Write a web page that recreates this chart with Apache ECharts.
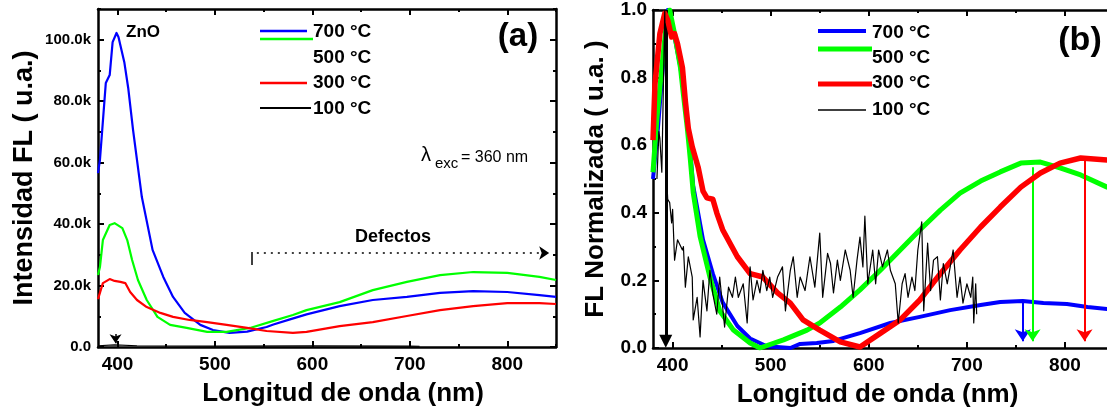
<!DOCTYPE html>
<html><head><meta charset="utf-8">
<script src="https://cdn.jsdelivr.net/npm/echarts@6/dist/echarts.min.js"></script>
<style>html,body{margin:0;padding:0;background:#fff}#c{width:1107px;height:412px}</style>
</head><body><div id="c"></div>
<script>
// ---------- data ----------
const temps = ['700 °C', '500 °C', '300 °C', '100 °C'];
const wlTicks = [400, 500, 600, 700, 800];
const wlMinorTicks = [450, 550, 650, 750, 850];
const intTicks = [0, 20000, 40000, 60000, 80000, 100000];
const intMinorTicks = [10000, 30000, 50000, 70000, 90000, 110000];
const normTicks = [0, 0.2, 0.4, 0.6, 0.8, 1.0];
const normMinorTicks = [0.1, 0.3, 0.5, 0.7, 0.9];

// (a) intensity, [nm, counts]
const a700 = [[380,56600],[382,60900],[388,85900],[392,88500],[395,99200],[399,102200],[401,100900],[407,92700],[411,84300],[416,70600],[420,60900],[425,48800],[436,31600],[447,22800],[457,16300],[469,11100],[485,7200],[498,5500],[515,4600],[533,5000],[553,6500],[560,7300],[577,9000],[594,10600],[628,13300],[662,15300],[697,16300],[731,17600],[765,18200],[800,17900],[833,16900],[850,16300]];
const a500 = [[380,23400],[382,26000],[385,34800],[392,39700],[397,40300],[405,38700],[410,34800],[415,28300],[421,21800],[430,15300],[441,9800],[454,7200],[471,6200],[492,4900],[512,4900],[536,6200],[560,8500],[580,10400],[594,12000],[628,14600],[662,18500],[697,21200],[731,23400],[765,24400],[800,24100],[833,22800],[850,21800]];
const a300 = [[380,15600],[385,20800],[392,22100],[397,21500],[403,21200],[408,20800],[413,17900],[420,15300],[430,13000],[444,11100],[457,9800],[474,8800],[492,8100],[512,7200],[533,6200],[553,5200],[580,4600],[594,4900],[628,6800],[662,8100],[697,10100],[731,12000],[765,13300],[800,14300],[833,14300],[850,14000]];
const a100 = [[380,400],[397,700],[420,400],[500,300],[600,350],[700,300],[710,250]];

// (b) normalised, [nm, value]
const b700 = [[380,0.50],[385,0.65],[390,0.83],[395,1.0],[400,0.95],[408,0.83],[413,0.72],[418,0.58],[421,0.48],[426,0.40],[431,0.32],[441,0.22],[451,0.135],[466,0.065],[479,0.028],[496,0.005],[520,0.0],[530,0.012],[547,0.015],[564,0.021],[591,0.044],[622,0.074],[652,0.092],[683,0.112],[714,0.127],[734,0.136],[757,0.139],[778,0.133],[802,0.130],[823,0.121],[843,0.115],[850,0.113]];
const b500 = [[380,0.52],[384,0.68],[389,0.83],[394,0.97],[397,1.0],[402,0.93],[408,0.83],[411,0.75],[415,0.65],[418,0.56],[421,0.46],[428,0.33],[438,0.21],[448,0.11],[462,0.053],[479,0.015],[489,0.0],[513,0.024],[537,0.053],[550,0.074],[571,0.121],[591,0.172],[612,0.231],[632,0.29],[652,0.349],[673,0.408],[693,0.458],[714,0.494],[734,0.521],[755,0.547],[775,0.550],[795,0.533],[816,0.512],[843,0.476],[850,0.47]];
const b300 = [[380,0.615],[382,0.78],[387,0.93],[392,0.99],[395,0.97],[399,0.92],[402,0.93],[405,0.90],[410,0.83],[413,0.73],[416,0.65],[420,0.595],[423,0.565],[426,0.535],[431,0.464],[435,0.444],[441,0.44],[445,0.40],[451,0.35],[466,0.27],[479,0.22],[492,0.21],[507,0.163],[520,0.133],[533,0.083],[550,0.053],[571,0.018],[591,0.003],[612,0.044],[632,0.083],[652,0.142],[673,0.22],[693,0.29],[714,0.358],[734,0.417],[755,0.476],[775,0.518],[795,0.547],[816,0.562],[843,0.556],[850,0.555]];
const b100 = [[384,0.50],[386,0.64],[387,0.62],[389,0.52],[392,1.0],[394,0.50],[395,0.44],[397,0.43],[399,0.37],[400,0.41],[402,0.26],[405,0.32],[410,0.29],[411,0.30],[413,0.18],[416,0.27],[420,0.21],[421,0.083],[425,0.15],[428,0.033],[431,0.20],[435,0.11],[438,0.23],[441,0.16],[445,0.10],[448,0.21],[453,0.062],[457,0.18],[461,0.15],[464,0.21],[467,0.15],[472,0.19],[476,0.074],[479,0.24],[482,0.142],[486,0.20],[489,0.163],[492,0.23],[496,0.17],[499,0.21],[502,0.15],[507,0.21],[512,0.24],[515,0.11],[520,0.23],[523,0.27],[527,0.15],[530,0.21],[535,0.17],[540,0.27],[545,0.18],[550,0.34],[553,0.15],[558,0.28],[561,0.25],[564,0.163],[568,0.26],[571,0.20],[576,0.29],[581,0.23],[584,0.15],[588,0.26],[591,0.328],[594,0.24],[596,0.39],[599,0.19],[604,0.29],[607,0.19],[610,0.29],[614,0.24],[619,0.29],[622,0.23],[627,0.19],[630,0.074],[634,0.19],[637,0.22],[640,0.15],[644,0.21],[647,0.17],[650,0.29],[654,0.373],[656,0.11],[660,0.31],[663,0.17],[666,0.26],[670,0.27],[673,0.142],[676,0.25],[680,0.19],[683,0.24],[686,0.29],[690,0.15],[693,0.21],[696,0.133],[700,0.19],[704,0.15],[706,0.21],[707,0.074],[709,0.19],[710,0.10]];

// peak markers (nm, value at curve)
const peakB = [[757, 0.139], [767, 0.535], [820, 0.556]];
const excPeakB = 393;
const peakA100 = 398;

// ---------- chart ----------
const FONT = "'Liberation Sans', Arial, sans-serif";
const BLUE = '#0000ff', GREEN = '#00ff00', RED = '#ff0000', BLACK = '#000000';

function axisSet(kind, gridIndex, o) {
  const posMain = kind === 'x' ? 'bottom' : 'left';
  const posOpp = kind === 'x' ? 'top' : 'right';
  const base = () => ({type: 'value', gridIndex, min: o.min, max: o.max, splitLine: {show: false}, axisPointer: {show: false}});
  const tick = (vals, len) => ({show: true, inside: true, length: len, customValues: vals, lineStyle: {color: '#000', width: 2}});
  const line = (show) => ({show, onZero: false, lineStyle: {color: '#000', width: 2.5}});
  return [
    Object.assign(base(), {position: posMain, axisLine: line(true), axisTick: tick(o.ticks, 6),
      axisLabel: {show: true, customValues: o.ticks, formatter: o.fmt, color: '#000', fontWeight: 'bold', fontSize: o.labelSize, fontFamily: FONT, margin: o.margin},
      name: o.name, nameLocation: 'middle', nameGap: o.nameGap, nameMoveOverlap: false,
      nameTextStyle: {color: '#000', fontWeight: 'bold', fontSize: o.nameSize, fontFamily: FONT, padding: o.namePad || 0}}),
    Object.assign(base(), {position: posMain, axisLine: line(false), axisTick: tick(o.minor, 3), axisLabel: {show: false}}),
    Object.assign(base(), {position: posOpp, axisLine: line(true), axisTick: tick(o.ticks, 6), axisLabel: {show: false}}),
    Object.assign(base(), {position: posOpp, axisLine: line(false), axisTick: tick(o.minor, 3), axisLabel: {show: false}})
  ];
}

const xName = 'Longitud de onda (nm)';
const xAxes = [].concat(
  axisSet('x', 0, {min: 380, max: 850, ticks: wlTicks, minor: wlMinorTicks, fmt: v => String(v), labelSize: 19, margin: 8, name: xName, nameGap: 34, nameSize: 26, namePad: [0, 0, 0, 32]}),
  axisSet('x', 1, {min: 380, max: 850, ticks: wlTicks, minor: wlMinorTicks, fmt: v => String(v), labelSize: 19, margin: 8, name: xName, nameGap: 34, nameSize: 26, namePad: [0, 12, 0, 0]})
);
const yAxes = [].concat(
  axisSet('y', 0, {min: 0, max: 110000, ticks: intTicks, minor: intMinorTicks, fmt: v => v === 0 ? '0.0' : (v / 1000).toFixed(1) + 'k', labelSize: 15, margin: 7, name: 'Intensidad FL ( u.a.)', nameGap: 60, nameSize: 27}),
  axisSet('y', 1, {min: 0, max: 1.0, ticks: normTicks, minor: normMinorTicks, fmt: v => v.toFixed(1), labelSize: 19, margin: 6, name: 'FL Normalizada ( u.a. )', nameGap: 44, nameSize: 26})
);

function ser(name, data, ai, color, width, z, extra) {
  return Object.assign({type: 'line', name, data, xAxisIndex: ai, yAxisIndex: ai, symbol: 'none', showSymbol: false,
    lineStyle: {color, width, join: 'round'}, itemStyle: {color}, z, silent: true, animation: false}, extra || {});
}

const mlA = {silent: true, animation: false, label: {show: false}, emphasis: {disabled: true},
  data: [
    [{coord: [543, 30600], symbol: 'none', lineStyle: {color: BLACK, width: 1.5, type: [2, 5]}}, {coord: [843, 30600], symbol: 'arrow', symbolSize: 10, itemStyle: {color: BLACK}}],
    [{coord: [538, 26700], symbol: 'none', lineStyle: {color: BLACK, width: 1.5, type: 'solid'}}, {coord: [538, 30900], symbol: 'none'}],
    [{coord: [peakA100, 4200], symbol: 'none', lineStyle: {color: BLACK, width: 1.5, type: 'solid'}}, {coord: [peakA100, 1200], symbol: 'arrow', symbolSize: 9, itemStyle: {color: BLACK}}]
  ]};

const colsB = [BLUE, GREEN, RED];
const mlB = {silent: true, animation: false, label: {show: false}, emphasis: {disabled: true},
  data: [[{coord: [excPeakB, 1.0], symbol: 'none', lineStyle: {color: BLACK, width: 3, type: 'solid'}}, {coord: [excPeakB, 0.02], symbol: 'triangle', symbolSize: 13, itemStyle: {color: BLACK}}]]
    .concat(peakB.map((p, i) => [{coord: [p[0], p[1]], symbol: 'none', lineStyle: {color: colsB[i], width: 2, type: 'solid'}}, {coord: [p[0], 0.02], symbol: 'arrow', symbolSize: 12, itemStyle: {color: colsB[i]}}]))
};

const series = [
  ser(temps[0], a700, 0, BLUE, 2.2, 3),
  ser(temps[1], a500, 0, GREEN, 2.2, 4),
  ser(temps[2], a300, 0, RED, 2.2, 5),
  ser(temps[3], a100, 0, BLACK, 1.2, 6, {markLine: mlA}),
  ser(temps[0], b700, 4, BLUE, 4, 3),
  ser(temps[1], b500, 4, GREEN, 5, 4),
  ser(temps[2], b300, 4, RED, 5.5, 5),
  ser(temps[3], b100, 4, BLACK, 1.2, 6, {markLine: mlB})
];

function txt(x, y, text, size, weight, align) {
  return {type: 'text', x, y, silent: true, z: 100, style: {text, fill: '#000', fontSize: size, fontWeight: weight || 'bold', fontFamily: FONT, align: align || 'left', verticalAlign: 'middle'}};
}
function seg(x1, y1, x2, y2, color, w) {
  return {type: 'line', silent: true, z: 100, shape: {x1, y1, x2, y2}, style: {stroke: color, lineWidth: w}};
}

const graphics = [
  // legend (a)
  seg(260, 31, 307, 31, BLUE, 2.5), seg(260, 39, 313, 39, GREEN, 2.5), seg(260, 83, 307, 83, RED, 2.5), seg(260, 108, 311, 108, BLACK, 2),
  txt(313, 32, temps[0], 19), txt(313, 58, temps[1], 19), txt(313, 83, temps[2], 19), txt(313, 109, temps[3], 19),
  // legend (b)
  seg(818, 31, 866, 31, BLUE, 4), seg(818, 49, 872, 49, GREEN, 5), seg(818, 84, 872, 84, RED, 5), seg(818, 110, 866, 110, BLACK, 1.5),
  txt(872, 33, temps[0], 19), txt(872, 58, temps[1], 19), txt(872, 83, temps[2], 19), txt(872, 110, temps[3], 19),
  // annotations
  txt(126, 32, 'ZnO', 17),
  txt(518, 37, '(a)', 33, 'bold', 'center'),
  txt(1080, 41, '(b)', 34, 'bold', 'center'),
  txt(393, 237, 'Defectos', 18, 'bold', 'center'),
  txt(421, 155, 'λ', 20, 'normal'),
  txt(435, 164, 'exc', 15, 'normal'),
  txt(461, 158, '= 360 nm', 16, 'normal')
];

const chart = echarts.init(document.getElementById('c'), null, {renderer: 'canvas'});
chart.setOption({
  animation: false,
  backgroundColor: '#fff',
  grid: [
    {left: 98, top: 9, width: 458, height: 338, containLabel: false, outerBoundsMode: 'none'},
    {left: 653, top: 10, width: 461, height: 338, containLabel: false, outerBoundsMode: 'none'}
  ],
  xAxis: xAxes,
  yAxis: yAxes,
  series,
  graphic: {elements: graphics}
});
</script>
</body></html>
